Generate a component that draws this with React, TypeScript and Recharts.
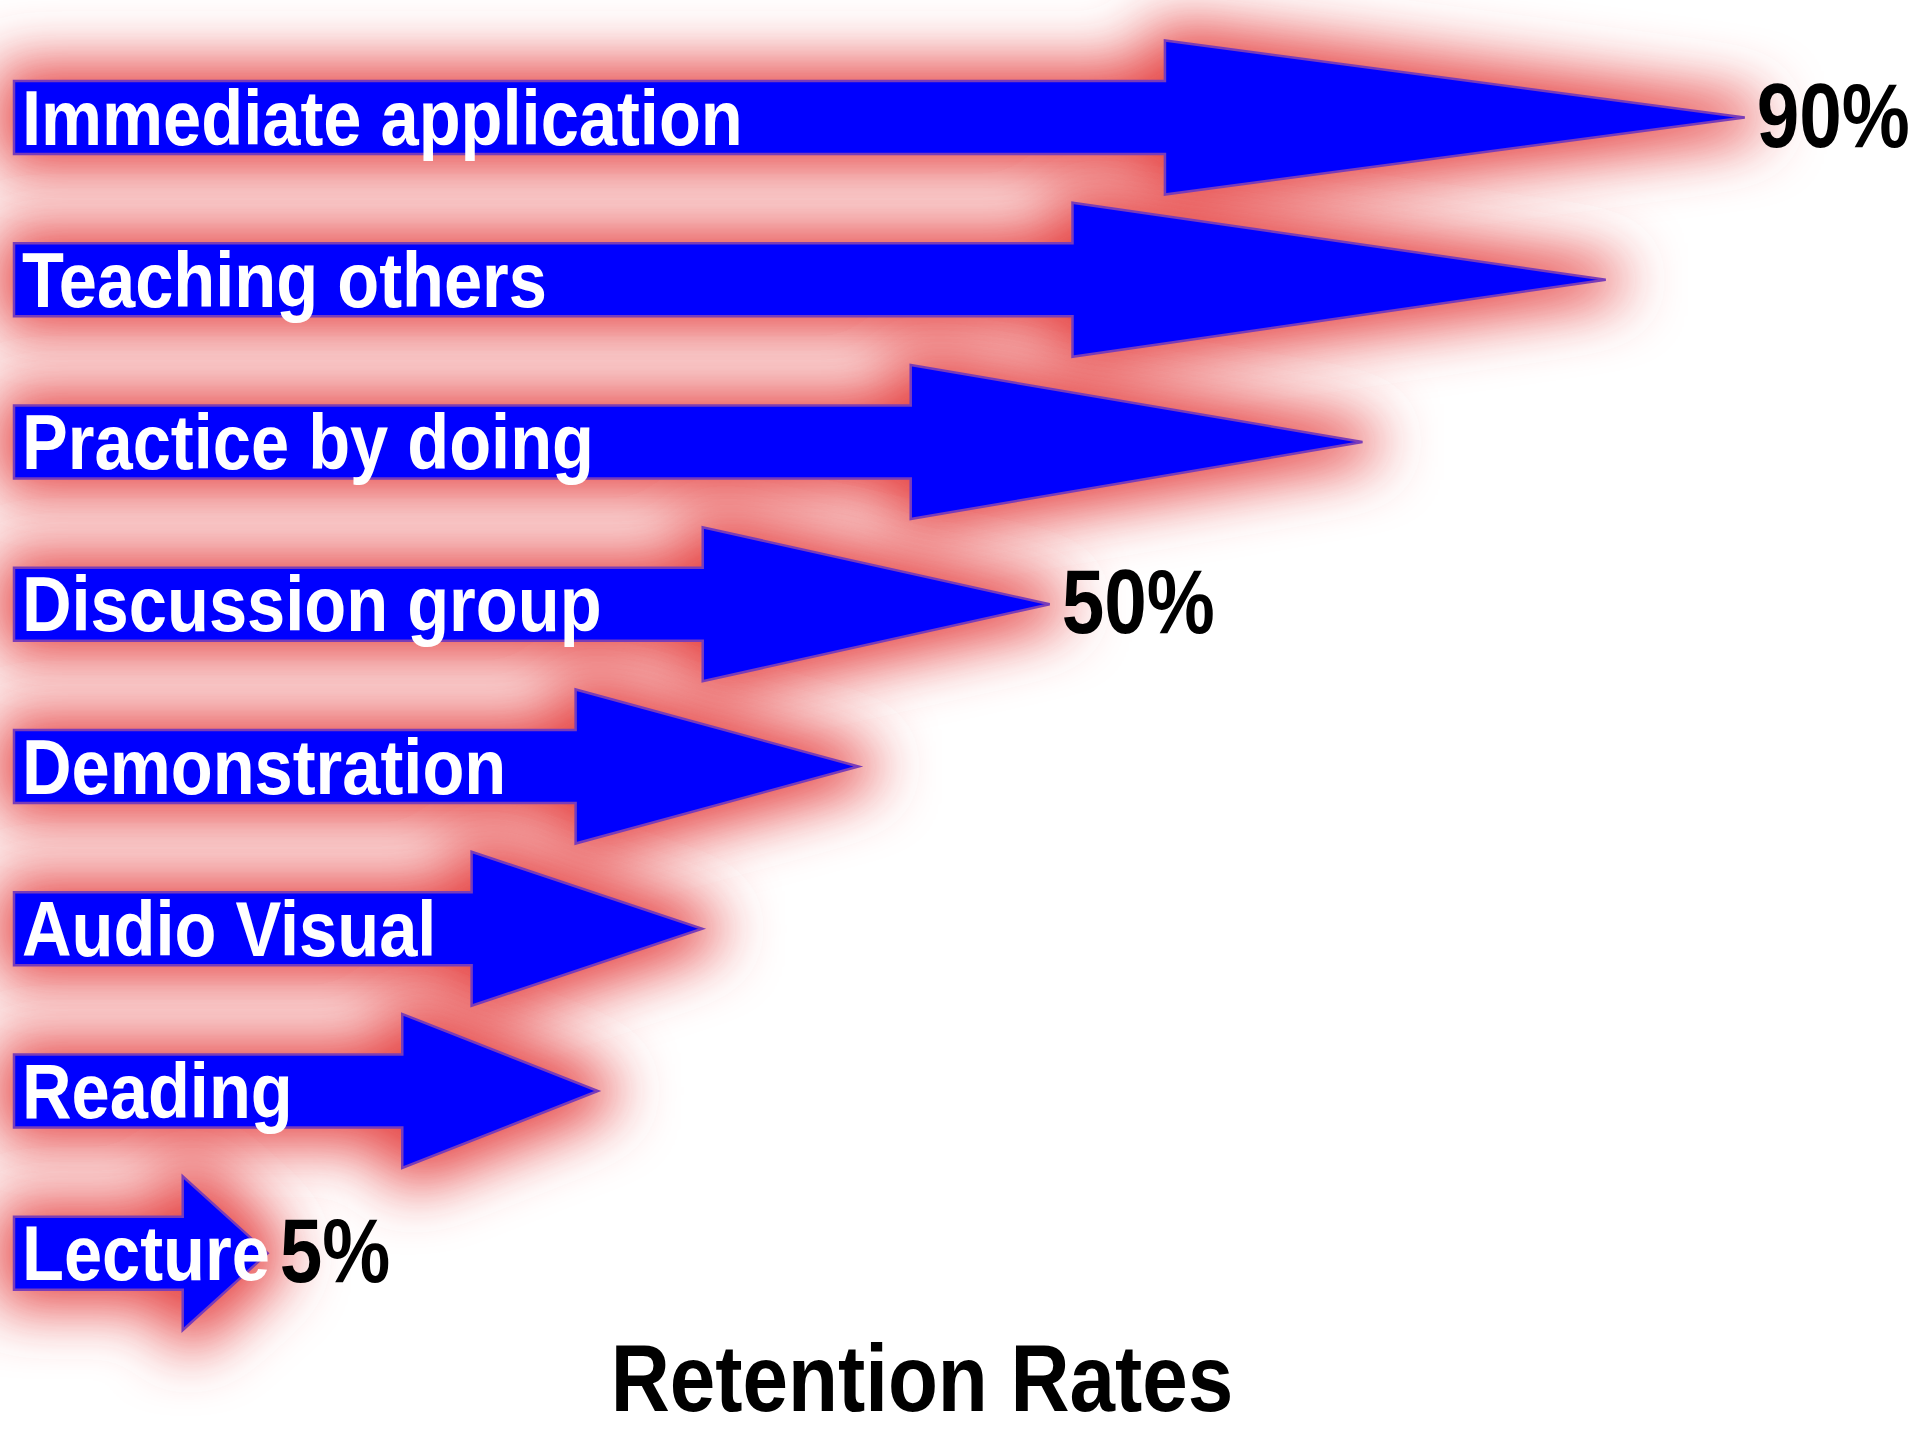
import React from 'react';
import { BarChart, Bar, XAxis, YAxis } from 'recharts';

// ---- data ----
const categories = [
  'Immediate application',
  'Teaching others',
  'Practice by doing',
  'Discussion group',
  'Demonstration',
  'Audio Visual',
  'Reading',
  'Lecture',
];
const retention = [90, 82, 68, 50, 39, 30, 24, 5];
const valueLabels = ['90%', '', '', '50%', '', '', '', '5%'];
const chartTitle = 'Retention Rates';

const data = categories.map((name, i) => ({
  name,
  value: retention[i],
  label: valueLabels[i],
}));

// ---- layout / style ----
const W = 1915;
const H = 1432;
const MARGIN = { top: 36, right: 66, bottom: 98, left: 14 };
const SHAFT = 73;
const HEAD_HALF = 77;
const HEAD_RATIO = 0.335;
const FONT = '"Liberation Sans", Arial, Helvetica, sans-serif';

function arrowPoints(left: number, tip: number, cy: number) {
  const hs = tip - (tip - left) * HEAD_RATIO;
  const s = SHAFT / 2;
  return [
    [left, cy - s],
    [hs, cy - s],
    [hs, cy - HEAD_HALF],
    [tip, cy],
    [hs, cy + HEAD_HALF],
    [hs, cy + s],
    [left, cy + s],
  ]
    .map((p) => `${p[0]},${p[1]}`)
    .join(' ');
}

const GlowShape = (props: any) => {
  const { x, y, width, height } = props;
  const cy = y + height / 2;
  const tip = x + width;
  return (
    <polygon
      points={arrowPoints(MARGIN.left, tip, cy)}
      fill="#000"
      filter="url(#arrowGlow)"
    />
  );
};

const ArrowShape = (props: any) => {
  const { x, y, width, height, payload } = props;
  const cy = y + height / 2;
  const tip = x + width;
  return (
    <g>
      <polygon
        points={arrowPoints(MARGIN.left, tip, cy)}
        fill="#0000ff"
        stroke="#7a3cb8"
        strokeWidth={2.5}
      />
      <text
        transform={`translate(${MARGIN.left + 8},${cy + 27}) scale(0.88,1)`}
        x={0}
        y={0}
        fill="#ffffff"
        fontFamily={FONT}
        fontWeight="bold"
        fontSize={78}
      >
        {payload.name}
      </text>
      {payload.label ? (
        <text
          transform={`translate(${tip + 12},${cy + 29}) scale(0.85,1)`}
          x={0}
          y={0}
          fill="#000000"
          fontFamily={FONT}
          fontWeight="bold"
          fontSize={90}
        >
          {payload.label}
        </text>
      ) : null}
    </g>
  );
};

export default function App() {
  return (
    <div style={{ position: 'absolute', left: 0, top: 0, width: W, height: H, background: '#fff' }}>
      <BarChart
        width={W}
        height={H}
        data={data}
        layout="vertical"
        margin={MARGIN}
        barGap={-SHAFT}
      >
        <defs>
          <filter
            id="arrowGlow"
            filterUnits="userSpaceOnUse"
            x={-300}
            y={-300}
            width={2600}
            height={2100}
          >
            <feMorphology in="SourceAlpha" operator="dilate" radius={18} result="dil" />
            <feGaussianBlur in="dil" stdDeviation={30} result="blur" />
            <feFlood floodColor="#e64444" floodOpacity={1} result="col" />
            <feComposite in="col" in2="blur" operator="in" />
          </filter>
        </defs>
        <XAxis type="number" domain={[-9.6, 96]} hide />
        <YAxis type="category" dataKey="name" hide />
        <Bar dataKey="value" barSize={SHAFT} shape={GlowShape} isAnimationActive={false} />
        <Bar dataKey="value" barSize={SHAFT} shape={ArrowShape} isAnimationActive={false} />
        <text
          transform={`translate(922,1411) scale(0.87,1)`}
          x={0}
          y={0}
          textAnchor="middle"
          fill="#000"
          fontFamily={FONT}
          fontWeight="bold"
          fontSize={94}
        >
          {chartTitle}
        </text>
      </BarChart>
    </div>
  );
}
